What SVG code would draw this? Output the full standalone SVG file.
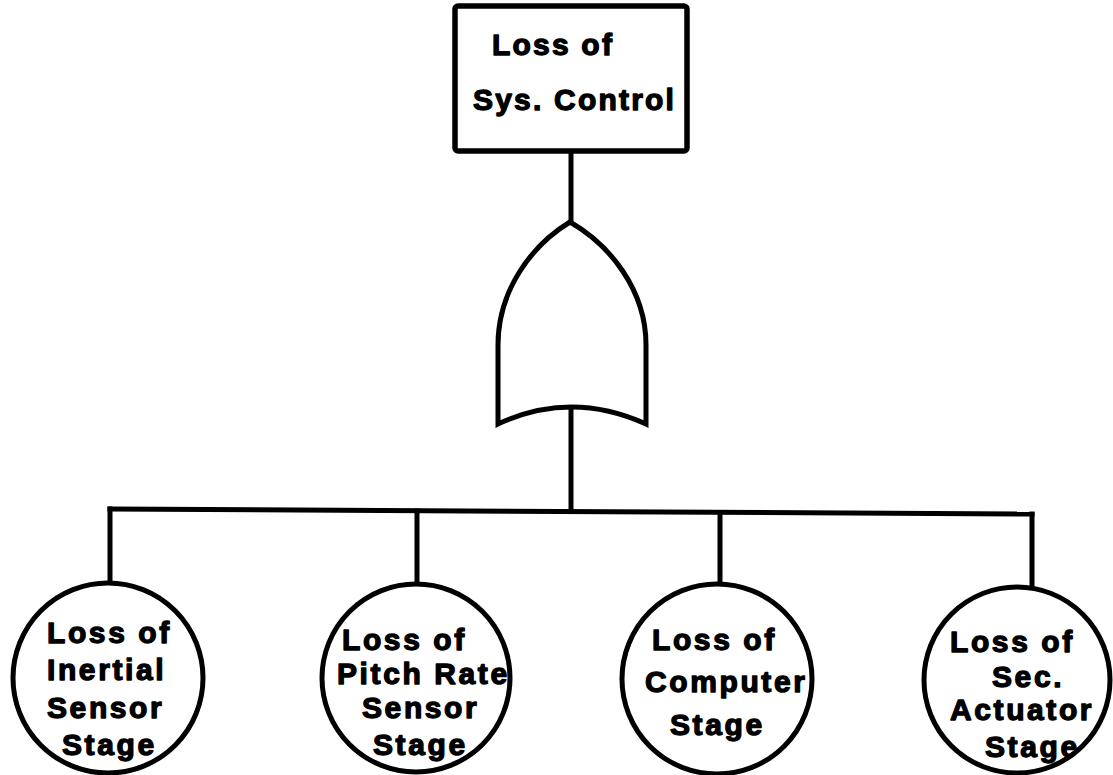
<svg xmlns="http://www.w3.org/2000/svg" width="1113" height="775" viewBox="0 0 1113 775">
<style>
.ln{fill:none;stroke:#000;stroke-width:5;stroke-linecap:square;stroke-linejoin:round}
.nd{fill:#fff;stroke:#000;stroke-width:5}
.t{font-family:"Liberation Sans",Arial,sans-serif;font-weight:bold;font-size:30px;letter-spacing:2.6px;fill:#000;stroke:#000;stroke-width:1.3px;stroke-linejoin:round}
.tb{letter-spacing:2.2px}
</style>
<rect width="1113" height="775" fill="#fff"/>
<g id="connectors">
<line class="ln" x1="571" y1="151" x2="571" y2="222"/>
<line class="ln" x1="571" y1="407" x2="571" y2="511"/>
<line class="ln" x1="110" y1="509" x2="1032" y2="514"/>
<line class="ln" x1="110" y1="509" x2="110" y2="582"/>
<line class="ln" x1="417" y1="511" x2="417" y2="582"/>
<line class="ln" x1="720" y1="513" x2="720" y2="583"/>
<line class="ln" x1="1032" y1="514" x2="1032" y2="587"/>
</g>
<g id="top-event">
<rect class="nd" x="455" y="6" width="232" height="145" rx="3" style="stroke-width:5.5"/>
<text class="t tb" x="492" y="55">Loss of</text>
<text class="t tb" x="473" y="110">Sys. Control</text>
</g>
<g id="or-gate">
<path class="nd" d="M570 222 C532 245 498 290 498 345 L498 424 Q571 390 646 424 L646 345 C646 290 610 245 570 222 Z"/>
</g>
<g id="inertial">
<circle class="nd" cx="108" cy="678" r="95"/>
<text class="t" x="47" y="643">Loss of</text>
<text class="t" x="47" y="680">Inertial</text>
<text class="t" x="47" y="718">Sensor</text>
<text class="t" x="62" y="755">Stage</text>
</g>
<g id="pitch-rate">
<circle class="nd" cx="416" cy="678" r="94"/>
<text class="t" x="342" y="650">Loss of</text>
<text class="t" x="337" y="684">Pitch Rate</text>
<text class="t" x="362" y="718">Sensor</text>
<text class="t" x="373" y="755">Stage</text>
</g>
<g id="computer">
<circle class="nd" cx="717" cy="679" r="95"/>
<text class="t" x="652" y="650">Loss of</text>
<text class="t" x="645" y="692">Computer</text>
<text class="t" x="670" y="735">Stage</text>
</g>
<g id="actuator">
<circle class="nd" cx="1017" cy="680" r="93"/>
<text class="t" x="950" y="652">Loss of</text>
<text class="t" x="992" y="687">Sec.</text>
<text class="t" x="950" y="720">Actuator</text>
<text class="t" x="985" y="757">Stage</text>
</g>
</svg>
